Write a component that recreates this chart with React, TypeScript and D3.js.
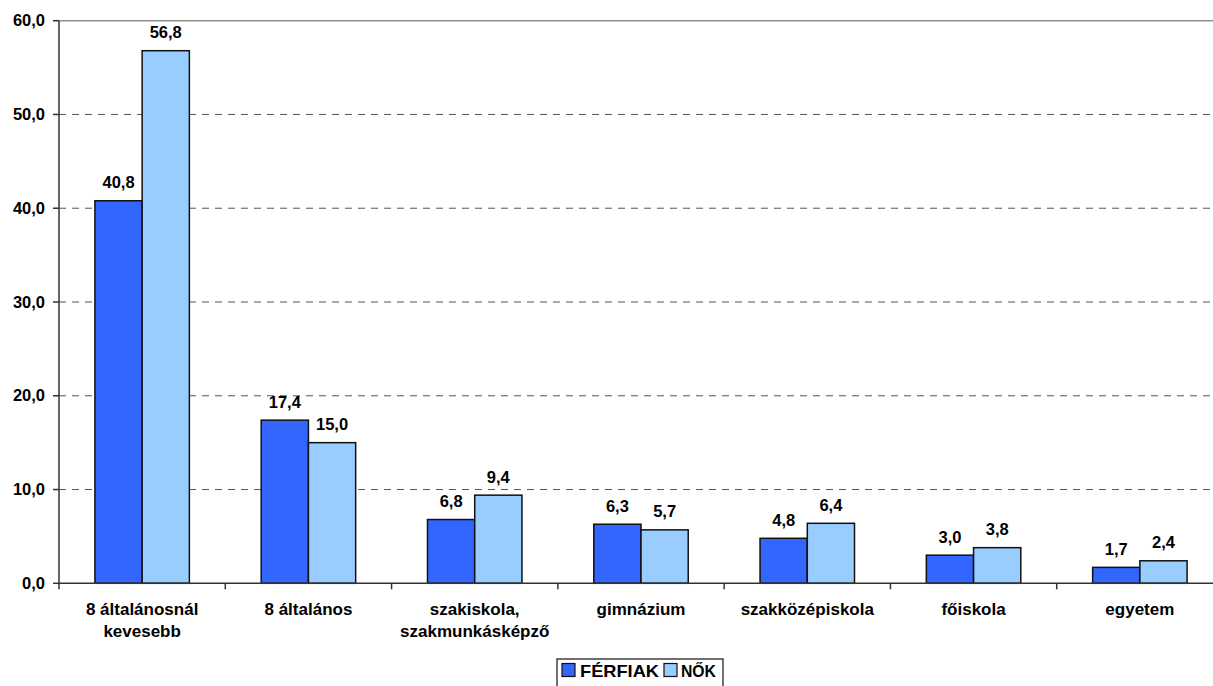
import React from "react";
import * as d3 from "d3";

const categories: string[][] = [
  ["8 általánosnál", "kevesebb"],
  ["8 általános"],
  ["szakiskola,", "szakmunkásképző"],
  ["gimnázium"],
  ["szakközépiskola"],
  ["főiskola"],
  ["egyetem"],
];
const ferfiak = [40.8, 17.4, 6.8, 6.3, 4.8, 3.0, 1.7];
const nok = [56.8, 15.0, 9.4, 5.7, 6.4, 3.8, 2.4];
const seriesNames = ["FÉRFIAK", "NŐK"];
const yTicks = [0, 10, 20, 30, 40, 50, 60];

const W = 1213;
const H = 686;
const colors = ["#3366FF", "#99CCFF"];
const font = "'Liberation Sans', Arial, sans-serif";

export default function App() {
  const left = 59;
  const right = 1223;
  const top = 20.7;
  const bottom = 583.3;
  const x = d3
    .scaleBand<number>()
    .domain(categories.map((_, i) => i))
    .range([left, right])
    .padding(0);
  const y = d3.scaleLinear().domain([0, 60]).range([bottom, top]);
  const bw = x.bandwidth();
  const barW = bw * 0.284;
  const fmt = (v: number) => v.toFixed(1).replace(".", ",");
  const series = [ferfiak, nok];

  return (
    <svg
      width={W}
      height={H}
      style={{ position: "absolute", left: 0, top: 0, background: "#fff" }}
      fontFamily={font}
      fontWeight="bold"
    >
      {/* gridlines */}
      {yTicks.map((t) =>
        t === 0 ? null : t === 60 ? (
          <line key={t} x1={left} x2={right} y1={y(t)} y2={y(t)} stroke="#909090" strokeWidth={1.5} />
        ) : (
          <line
            key={t}
            x1={left}
            x2={right}
            y1={y(t)}
            y2={y(t)}
            stroke="#555"
            strokeWidth={1}
            strokeDasharray="7,6"
          />
        )
      )}
      {/* bars */}
      {categories.map((_, i) => {
        const cx = (x(i) as number) + bw / 2;
        return series.map((s, j) => {
          const bx = cx - barW + j * barW;
          return (
            <g key={`${i}-${j}`}>
              <rect
                x={bx}
                y={y(s[i])}
                width={barW}
                height={bottom - y(s[i])}
                fill={colors[j]}
                stroke="#111"
                strokeWidth={1.5}
              />
              <text
                x={bx + barW / 2}
                y={y(s[i]) - 12.5}
                textAnchor="middle"
                fontSize={16.5}
                fill="#000"
              >
                {fmt(s[i])}
              </text>
            </g>
          );
        });
      })}
      {/* y axis */}
      <line x1={left} x2={left} y1={top} y2={bottom} stroke="#333" strokeWidth={1.5} />
      {yTicks.map((t) => (
        <g key={t}>
          <line x1={left - 6} x2={left} y1={y(t)} y2={y(t)} stroke="#333" strokeWidth={1.5} />
          <text x={45} y={y(t) + 5.5} textAnchor="end" fontSize={16.5} fill="#000">
            {fmt(t)}
          </text>
        </g>
      ))}
      {/* x axis */}
      <line x1={left} x2={right} y1={bottom} y2={bottom} stroke="#333" strokeWidth={1.5} />
      {categories.map((c, i) => (
        <g key={i}>
          <line
            x1={x(i) as number}
            x2={x(i) as number}
            y1={bottom}
            y2={bottom + 6}
            stroke="#333"
            strokeWidth={1.5}
          />
          {c.map((line, k) => (
            <text
              key={k}
              x={(x(i) as number) + bw / 2}
              y={615 + k * 21.7}
              textAnchor="middle"
              fontSize={17}
              fill="#000"
            >
              {line}
            </text>
          ))}
        </g>
      ))}
      {/* legend */}
      <rect x={557} y={659} width={166} height={30} fill="#fff" stroke="#111" strokeWidth={1.2} />
      <rect x={562} y={663.5} width={13} height={13} fill={colors[0]} stroke="#111" strokeWidth={1.2} />
      <text x={580} y={676.5} fontSize={16.5} fill="#000" textLength={79} lengthAdjust="spacingAndGlyphs">
        {seriesNames[0]}
      </text>
      <rect x={664} y={663.5} width={13} height={13} fill={colors[1]} stroke="#111" strokeWidth={1.2} />
      <text x={681} y={676.5} fontSize={16.5} fill="#000" textLength={35} lengthAdjust="spacingAndGlyphs">
        {seriesNames[1]}
      </text>
    </svg>
  );
}
